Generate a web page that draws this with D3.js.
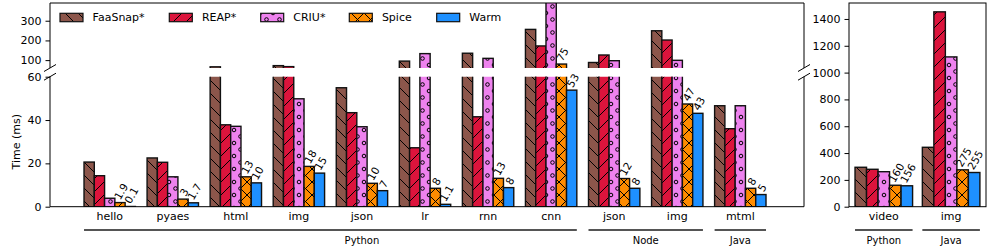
<!DOCTYPE html>
<html lang="en">
<head>
<meta charset="UTF-8">
<title>Startup latency</title>
<script src="https://cdn.jsdelivr.net/npm/d3@7"></script>
<style>
  body { margin: 0; background: #fff; }
  svg { font-family: "DejaVu Sans", sans-serif; }
</style>
</head>
<body>
<script>
// ---- data ----
const series = ['FaaSnap*', 'REAP*', 'CRIU*', 'Spice', 'Warm'];
const colors = ['#8c564b', '#dc143c', '#ee82ee', '#ff8c00', '#1e90ff'];
const hatches = ['\\', '/', 'o', 'x', ''];

// left panel (broken y axis)
const groupsL = ['hello', 'pyaes', 'html', 'img', 'json', 'lr', 'rnn', 'cnn', 'json', 'img', 'mtml'];
const faasnapL = [20.6, 22.5, 66, 72, 54.9, 95, 135, 256, 88, 249, 46.6];
const reapL = [14.3, 20.5, 37.8, 67, 43.4, 27.2, 41.5, 172, 126, 202, 36];
const criuL = [3.9, 13.8, 37.1, 49.8, 36.9, 133, 109, 420, 97, 99, 46.6];
const spiceL = [1.9, 3.5, 13.8, 18.6, 10.8, 8.5, 13.1, 80, 13, 47.4, 8.5];
const warmL = [0.1, 1.8, 11, 15.5, 7.4, 1.1, 8.8, 53.8, 8.5, 43.1, 5.6];
const spiceLabL = ['1.9', '3', '13', '18', '10', '8', '13', '75', '12', '47', '8'];
const warmLabL = ['0.1', '1.7', '10', '15', '7', '1.1', '8', '53', '8', '43', '5'];
const langsL = [['Python', 0, 7, 4], ['Node', 8, 9, 8.5], ['Java', 10, 10, 10]];

// right panel
const groupsR = ['video', 'img'];
const faasnapR = [294, 443];
const reapR = [279, 1453];
const criuR = [261, 1117];
const spiceR = [160, 275];
const warmR = [156, 255];
const spiceLabR = ['160', '275'];
const warmLabR = ['156', '255'];
const langsR = [['Python', 0, 0, 0], ['Java', 1, 1, 1]];

const ticksUpper = [100, 200, 300];
const ticksLower = [0, 20, 40, 60];
const ticksRight = [0, 200, 400, 600, 800, 1000, 1200, 1400];

// ---- layout ----
const width = 997, height = 249;
const svg = d3.select('body').append('svg').attr('width', width).attr('height', height);
const defs = svg.append('defs');

const L = { left: 50, right: 804 };
const upper = { top: 3, bottom: 68 };
const lower = { top: 76.7, bottom: 206.7 };
const R = { left: 849, right: 986, top: 3, bottom: 206.7 };

const xL = d3.scaleLinear().domain([-0.947, 11.01]).range([L.left, L.right]);
const xR = d3.scaleLinear().domain([-0.517, 1.518]).range([R.left, R.right]);
const yU = d3.scaleLinear().domain([60, 390]).range([upper.bottom, upper.top]);
const yLo = d3.scaleLinear().domain([0, 60]).range([lower.bottom, lower.top]);
const yR = d3.scaleLinear().domain([0, 1519]).range([R.bottom, R.top]);
const bwL = 0.163, bwR = 0.171;

// hatch patterns
const s = 13;
colors.forEach((c, k) => {
    const p = defs.append('pattern').attr('id', 'h' + k)
        .attr('patternUnits', 'userSpaceOnUse').attr('width', s).attr('height', s);
    p.append('rect').attr('width', s).attr('height', s).attr('fill', c);
    const h = hatches[k];
    const fwd = `M0,${s} L${s},0 M${-s / 2},${s / 2} L${s / 2},${-s / 2} M${s / 2},${1.5 * s} L${1.5 * s},${s / 2}`;
    const back = `M0,0 L${s},${s} M${-s / 2},${s / 2} L${s / 2},${1.5 * s} M${s / 2},${-s / 2} L${1.5 * s},${s / 2}`;
    let d = '';
    if (h === '/') d = fwd;
    if (h === '\\') d = back;
    if (h === 'x') d = fwd + ' ' + back;
    if (d) p.append('path').attr('d', d).attr('stroke', '#000').attr('stroke-width', 1).attr('fill', 'none');
    if (h === 'o') {
        [[0, 0], [s, 0], [0, s], [s, s], [s / 2, s / 2]].forEach(([cx, cy]) => {
            p.append('circle').attr('cx', cx).attr('cy', cy).attr('r', 1.8)
                .attr('fill', 'none').attr('stroke', '#000').attr('stroke-width', 1);
        });
    }
});

function clip(id, x0, y0, x1, y1) {
    defs.append('clipPath').attr('id', id).append('rect')
        .attr('x', x0).attr('y', y0).attr('width', x1 - x0).attr('height', y1 - y0);
}
clip('cU', L.left, upper.top, L.right, upper.bottom);
clip('cL', L.left, lower.top, L.right, lower.bottom);
clip('cR', R.left, R.top, R.right, R.bottom);

const dataL = [faasnapL, reapL, criuL, spiceL, warmL];
const dataR = [faasnapR, reapR, criuR, spiceR, warmR];

function drawBars(g, data, x, y, bw) {
    data.forEach((vals, k) => {
        g.selectAll(null).data(vals).enter().append('rect')
            .attr('x', (d, i) => x(i + (k - 2.5) * bw))
            .attr('width', x(bw) - x(0))
            .attr('y', d => y(d))
            .attr('height', d => y(0) - y(d))
            .attr('fill', `url(#h${k})`)
            .attr('stroke', '#111')
            .attr('stroke-width', 1.4);
    });
}

drawBars(svg.append('g').attr('clip-path', 'url(#cU)'), dataL, xL, yU, bwL);
drawBars(svg.append('g').attr('clip-path', 'url(#cL)'), dataL, xL, yLo, bwL);
drawBars(svg.append('g').attr('clip-path', 'url(#cR)'), dataR, xR, yR, bwR);

// value labels (rotated, bottom-centred on bar top)
function valueLabel(cx, ytop, txt) {
    const outer = svg.append('g').attr('transform', `translate(${cx + 1},${ytop})`);
    const inner = outer.append('g');
    inner.append('text').attr('transform', 'rotate(-60)')
        .attr('font-size', 10.5).attr('fill', '#000').text(txt);
    const bb = inner.node().getBBox();
    inner.attr('transform', `translate(${-bb.x - bb.width / 2},${-bb.y - bb.height - 1})`);
}
[[spiceL, spiceLabL, 3], [warmL, warmLabL, 4]].forEach(([vals, labs, k]) => {
    vals.forEach((v, i) => {
        const cx = xL(i + (k - 2) * bwL);
        valueLabel(cx, v > 60 ? yU(v) : yLo(v), labs[i]);
    });
});
[[spiceR, spiceLabR, 3], [warmR, warmLabR, 4]].forEach(([vals, labs, k]) => {
    vals.forEach((v, i) => valueLabel(xR(i + (k - 2) * bwR), yR(v), labs[i]));
});

// spines
function line(x1, y1, x2, y2, w = 1, c = '#000') {
    svg.append('line').attr('x1', x1).attr('y1', y1).attr('x2', x2).attr('y2', y2)
        .attr('stroke', c).attr('stroke-width', w);
}
line(L.left, upper.top, L.right, upper.top);
line(L.left, upper.top, L.left, upper.bottom);
line(L.right, upper.top, L.right, upper.bottom);
line(L.left, lower.top, L.left, lower.bottom);
line(L.right, lower.top, L.right, lower.bottom);
line(L.left, lower.bottom, L.right, lower.bottom);
svg.append('rect').attr('x', R.left).attr('y', R.top)
    .attr('width', R.right - R.left).attr('height', R.bottom - R.top)
    .attr('fill', 'none').attr('stroke', '#000');

// break marks
[L.left, L.right].forEach(x => {
    [upper.bottom, lower.top].forEach(y => line(x - 6, y + 3.5, x + 6, y - 3.5));
});

// y axes
function yAxis(scale, ticks, x) {
    const g = svg.append('g').attr('transform', `translate(${x},0)`)
        .call(d3.axisLeft(scale).tickValues(ticks).tickSize(4.5).tickPadding(4).tickFormat(d3.format('d')));
    g.select('.domain').remove();
    g.selectAll('text').attr('font-size', 11).attr('fill', '#000')
        .attr('font-family', '"DejaVu Sans", sans-serif');
}
yAxis(yU, ticksUpper, L.left);
yAxis(yLo, ticksLower, L.left);
yAxis(yR, ticksRight, R.left);

svg.append('text').attr('transform', `translate(16,${(lower.top + lower.bottom) / 2}) rotate(-90)`)
    .attr('text-anchor', 'middle').attr('dominant-baseline', 'central')
    .attr('font-size', 11).text('Time (ms)');

// x labels and language brackets
function xLabels(groups, x, langs, bw) {
    svg.append('g').selectAll('text').data(groups).enter().append('text')
        .attr('x', (d, i) => x(i)).attr('y', 216)
        .attr('text-anchor', 'middle').attr('dominant-baseline', 'central')
        .attr('font-size', 11).text(d => d);
    langs.forEach(([name, a, b, c]) => {
        line(x(a - 2.5 * bw), 230, x(b + 2.5 * bw), 230, 1.8, '#555');
        svg.append('text').attr('x', x(c)).attr('y', 240.5)
            .attr('text-anchor', 'middle').attr('dominant-baseline', 'central')
            .attr('font-size', 10).text(name);
    });
}
xLabels(groupsL, xL, langsL, bwL);
xLabels(groupsR, xR, langsR, bwR);

// legend
const legendX = [60, 169.3, 260.7, 349.3, 436.7];
const leg = svg.append('g');
series.forEach((name, k) => {
    leg.append('rect').attr('x', legendX[k]).attr('y', 13.3).attr('width', 23).attr('height', 8.4)
        .attr('fill', `url(#h${k})`).attr('stroke', '#111').attr('stroke-width', 1.2);
    leg.append('text').attr('x', legendX[k] + 32.6).attr('y', 17.5)
        .attr('dominant-baseline', 'central').attr('font-size', 11).text(name);
});
</script>
</body>
</html>
